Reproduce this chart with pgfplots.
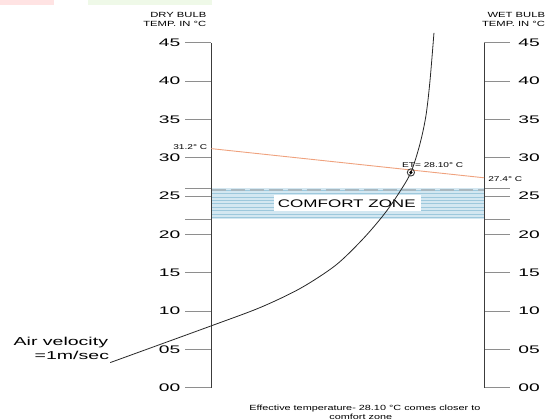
\documentclass[border=0pt]{standalone}
\usepackage{pgfplots}
\pgfplotsset{compat=1.18}
\usepackage{graphicx}
\usepackage{fontspec}
\setmainfont{Liberation Sans}

\definecolor{tickgray}{HTML}{8E8E8E}
\definecolor{axisgray}{HTML}{3C3C3C}
\definecolor{bandblue}{HTML}{D3E7F1}
\definecolor{stripeblue}{HTML}{9DC8DC}
\definecolor{dashgray}{HTML}{A9B8C0}
\definecolor{etline}{HTML}{EFA27E}
\definecolor{pinkbar}{HTML}{FFE3E3}
\definecolor{greenbar}{HTML}{EFF9E8}

% horizontally widened lettering
\newcommand\wide[2][1.7]{\scalebox{#1}[1]{#2}}

\begin{document}
\begin{tikzpicture}
\begin{axis}[
  scale only axis, width=545bp, height=425bp,
  xmin=0, xmax=545, ymin=-4.967, ymax=50.588,
  axis lines=none, clip=false,
]
% coloured strips along the top edge
\addplot[fill=pinkbar, draw=none] coordinates {(0,49.93) (54,49.93) (54,50.588) (0,50.588)} -- cycle;
\addplot[fill=greenbar, draw=none] coordinates {(88,49.93) (212,49.93) (212,50.588) (88,50.588)} -- cycle;

% comfort zone band
\addplot[fill=bandblue, draw=none] coordinates {(211,22) (483,22) (483,26.1) (211,26.1)} -- cycle;
\pgfplotsinvokeforeach{22.2,22.65,...,25.9}{
  \addplot[stripeblue, line width=0.8bp] coordinates {(211,#1) (483,#1)};
}
\addplot[dashgray, line width=1.6bp, dash pattern=on 14bp off 5bp] coordinates {(211,25.8) (483,25.8)};
\addplot[fill=white, draw=none] coordinates {(273,23.1) (420,23.1) (420,25.1) (273,25.1)} -- cycle;
\node at (axis cs:346,24.05) {\fontsize{11}{12}\selectfont\wide[1.55]{COMFORT ZONE}};

% scale ticks on both sides
\pgfplotsinvokeforeach{0,5,...,45,22,26}{
  \addplot[tickgray, line width=0.9bp] coordinates {(185,#1) (211,#1)};
  \addplot[tickgray, line width=0.9bp] coordinates {(483,#1) (509,#1)};
}
% the two scales
\addplot[axisgray, line width=1.1bp] coordinates {(211,0) (211,45)};
\addplot[axisgray, line width=1.1bp] coordinates {(483,0) (483,45)};

\foreach \v/\l in {0/00,5/05,10/10,15/15,20/20,25/25,30/30,35/35,40/40,45/45}{
  \edef\temp{\noexpand\node[anchor=east, inner sep=0pt] at (axis cs:180,\v) {\noexpand\fontsize{11}{12}\noexpand\selectfont\noexpand\wide[1.75]{\l}};
    \noexpand\node[anchor=west, inner sep=0pt] at (axis cs:517,\v) {\noexpand\fontsize{11}{12}\noexpand\selectfont\noexpand\wide[1.75]{\l}};}
  \temp
}

% scale headings
\node[anchor=east, inner sep=0pt] at (axis cs:206,48.63) {\fontsize{7.5}{8}\selectfont\wide[1.5]{DRY BULB}};
\node[anchor=east, inner sep=0pt] at (axis cs:206,47.45) {\fontsize{7.5}{8}\selectfont\wide[1.5]{TEMP. IN °C}};
\node[anchor=east, inner sep=0pt] at (axis cs:544,48.63) {\fontsize{7.5}{8}\selectfont\wide[1.5]{WET BULB}};
\node[anchor=east, inner sep=0pt] at (axis cs:544,47.45) {\fontsize{7.5}{8}\selectfont\wide[1.5]{TEMP. IN °C}};

% line joining dry bulb and wet bulb readings
\addplot[etline, line width=0.9bp] coordinates {(211,31.2) (483,27.4)};
\node[anchor=east, inner sep=0pt] at (axis cs:207,31.45) {\fontsize{7}{8}\selectfont\wide[1.45]{31.2° C}};
\node[anchor=west, inner sep=0pt] at (axis cs:487,27.25) {\fontsize{7}{8}\selectfont\wide[1.45]{27.4° C}};

% air velocity curve
\addplot[black!85, line width=0.8bp, smooth, tension=0.5] coordinates {
  (110,3.3) (211,8.1) (260,10.5) (300,13.0) (335,16.0) (362,19.4) (383,22.6)
  (398,25.4) (410,28.1) (419,31.8) (425,35.5) (429,40) (433,46.3)
};
\node[anchor=east, inner sep=0pt] at (axis cs:108,5.88) {\fontsize{11.5}{12}\selectfont\wide[1.7]{Air velocity}};
\node[anchor=east, inner sep=0pt] at (axis cs:109,4.18) {\fontsize{11.5}{12}\selectfont\wide[1.7]{=1m/sec}};

% effective temperature point
\addplot[axisgray, only marks, mark=o, mark size=3.6bp, mark options={line width=0.9bp}] coordinates {(410,28.1)};
\addplot[black, only marks, mark=*, mark size=1.4bp] coordinates {(410,28.1)};
\node[anchor=west, inner sep=0pt] at (axis cs:401,29.0) {\fontsize{7}{8}\selectfont\wide[1.45]{ET= 28.10° C}};

% caption
\node[inner sep=0pt] at (axis cs:364,-2.75) {\fontsize{7.5}{8}\selectfont\wide[1.45]{Effective temperature- 28.10 °C comes closer to}};
\node[inner sep=0pt] at (axis cs:360,-3.8) {\fontsize{7.5}{8}\selectfont\wide[1.45]{comfort zone}};
\end{axis}
\end{tikzpicture}
\end{document}
